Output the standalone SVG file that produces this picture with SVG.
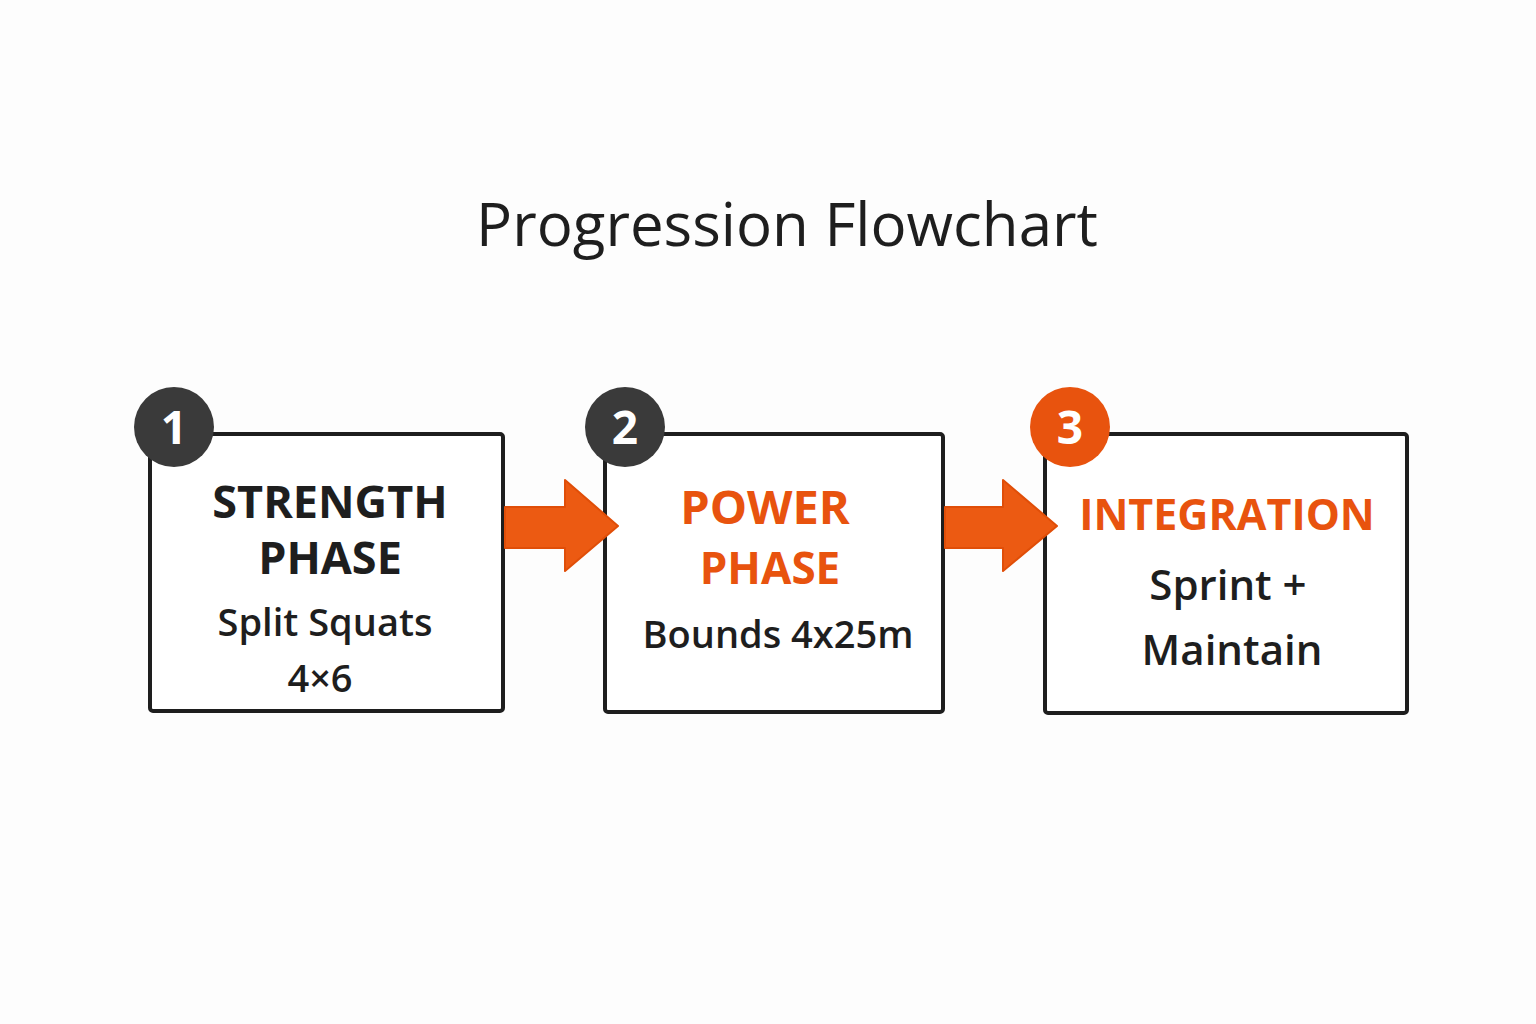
<svg xmlns="http://www.w3.org/2000/svg" width="1536" height="1024" viewBox="0 0 1536 1024">
<style>
.box{fill:#fff;stroke:#1e1e1e;stroke-width:4;stroke-linejoin:round}
.t{font-family:"Open Sans","Liberation Sans",sans-serif;text-anchor:middle}
.h{font-weight:700;fill:#1e1e1e}
.o{font-weight:700;fill:#e8530e}
.b{fill:#1e1e1e;font-weight:600}
.arr{fill:#ec5a12;stroke:#e04e08;stroke-width:2;stroke-linejoin:round}
.num{font-family:"Open Sans","Liberation Sans",sans-serif;font-weight:700;fill:#fff;text-anchor:middle;font-size:46px}
</style>
<rect width="1536" height="1024" fill="#fdfdfd"/>
<text class="t" x="787" y="246" font-size="60" fill="#1e1e1e">Progression Flowchart</text>
<g id="node1">
<rect class="box" x="150" y="434" width="353" height="277" rx="3"/>
<circle cx="174" cy="427" r="40" fill="#3a3a3a"/>
<text class="num" x="174" y="444">1</text>
<text class="t h" x="330" y="518" font-size="45">STRENGTH</text>
<text class="t h" x="330" y="574" font-size="45">PHASE</text>
<text class="t b" x="325" y="636" font-size="38">Split Squats</text>
<text class="t b" x="320" y="692" font-size="38">4×6</text>
</g>
<g id="node2">
<rect class="box" x="605" y="434" width="338" height="278" rx="3"/>
<circle cx="625" cy="427" r="40" fill="#3a3a3a"/>
<text class="num" x="625" y="444">2</text>
<text class="t o" x="765" y="524" font-size="47">POWER</text>
<text class="t o" x="770" y="584" font-size="44">PHASE</text>
<text class="t b" x="778" y="648" font-size="38">Bounds 4x25m</text>
</g>
<g id="node3">
<rect class="box" x="1045" y="434" width="362" height="279" rx="3"/>
<circle cx="1070" cy="427" r="40" fill="#e8530e"/>
<text class="num" x="1070" y="444">3</text>
<text class="t o" x="1227" y="530" font-size="43">INTEGRATION</text>
<text class="t b" x="1228" y="600" font-size="42">Sprint +</text>
<text class="t b" x="1232" y="665" font-size="42">Maintain</text>
</g>
<g id="connectors">
<polygon class="arr" points="505,507 565,507 565,480 618,526 565,571 565,548 505,548"/>
<polygon class="arr" points="945,507 1003,507 1003,480 1057,526 1003,571 1003,548 945,548"/>
</g>
</svg>
